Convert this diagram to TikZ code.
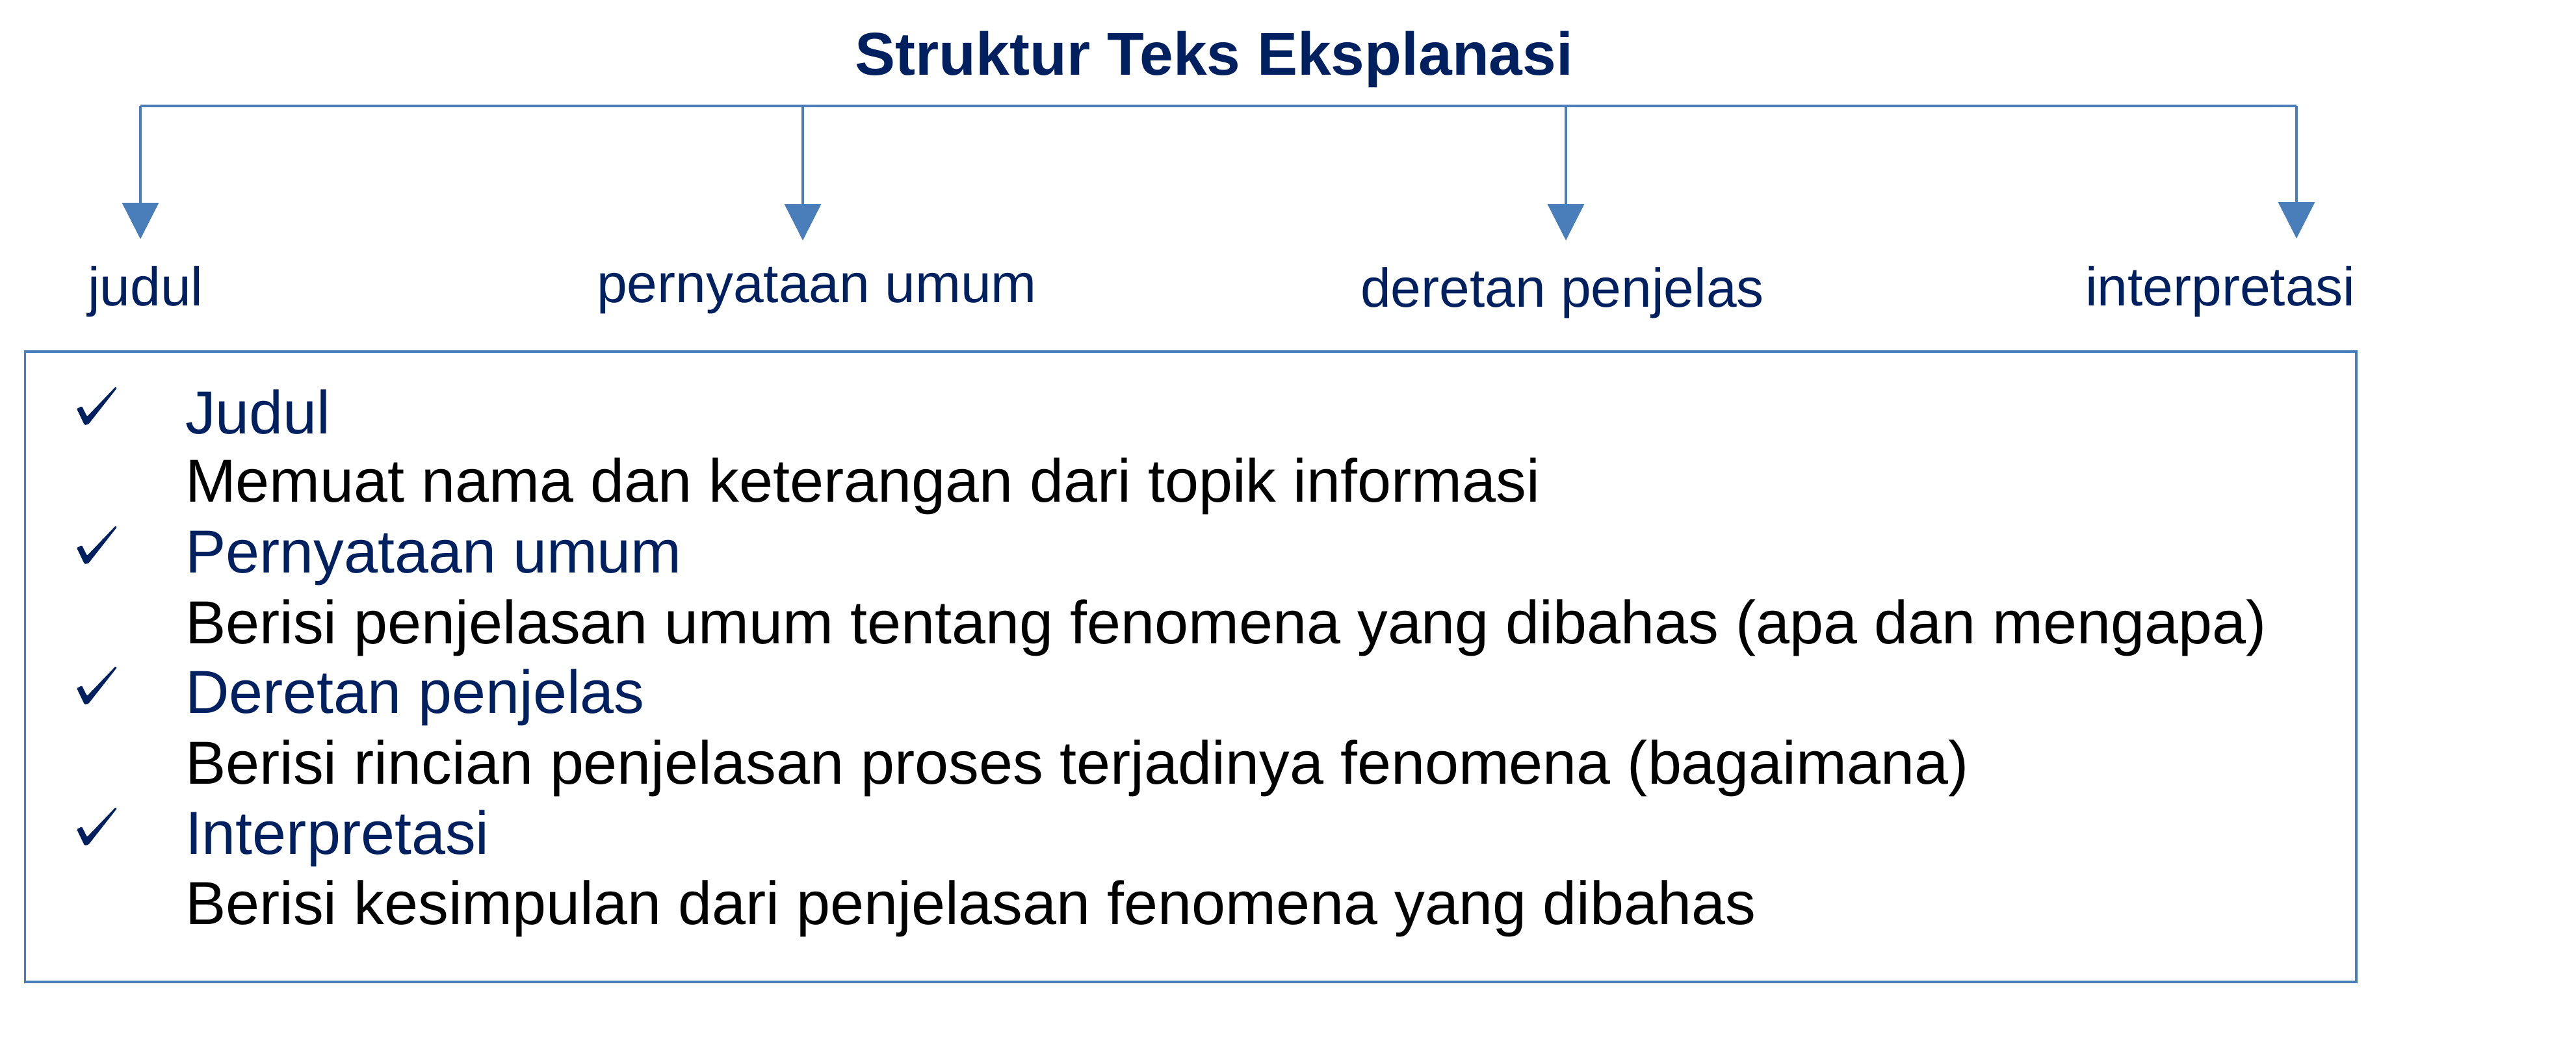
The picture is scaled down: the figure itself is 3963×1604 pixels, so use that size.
\documentclass[tikz,border=0pt]{standalone}
\usepackage{fontspec}
\setmainfont{Liberation Sans}
\usetikzlibrary{arrows.meta}
\definecolor{navy}{RGB}{0,32,96}
\definecolor{lineblue}{RGB}{74,126,187}
\begin{document}
\begin{tikzpicture}[x=0.2pt,y=-0.2pt,
  conn/.style={draw=lineblue,line width=0.7pt},
  arr/.style={conn,-{Triangle[width=11.2pt,length=11.2pt]}},
  lbl/.style={anchor=base west,inner sep=0pt,text=navy,font=\fontsize{16.8pt}{20pt}\selectfont},
  ttl/.style={anchor=base,inner sep=0pt,text=navy,font=\fontsize{18.6pt}{22pt}\selectfont\bfseries},
  head/.style={anchor=base west,inner sep=0pt,text=navy,font=\fontsize{18.7pt}{22pt}\selectfont},
  body/.style={anchor=base west,inner sep=0pt,text=black,font=\fontsize{18.7pt}{22pt}\selectfont},
  chkmark/.pic={\fill[navy,rounded corners=0.3pt] (0,-24) -- (8,-28) -- (16,-12) -- (60,-58) -- (62,-56) -- (18,0) -- (12,1) -- cycle;},
  boxst/.style={draw=lineblue,line width=0.7pt}]
\useasboundingbox (0,0) rectangle (3963,1604);
% title
\node[ttl] (title) at (1868,115) {Struktur Teks Eksplanasi};
% bar
\coordinate (b1) at (216,163);
\coordinate (b2) at (1235,163);
\coordinate (b3) at (2409,163);
\coordinate (b4) at (3533,163);
\coordinate (t1) at (216,368);
\coordinate (t2) at (1235,370);
\coordinate (t3) at (2409,370);
\coordinate (t4) at (3533,367);
\draw[conn] (b1) -- (b4);
\draw[arr] (b1) -- (t1);
\draw[arr] (b2) -- (t2);
\draw[arr] (b3) -- (t3);
\draw[arr] (b4) -- (t4);
% labels
\node[lbl] (l1) at (134,470) {judul};
\node[lbl] (l2) at (917,465) {pernyataan umum};
\node[lbl] (l3) at (2092,472) {deretan penjelas};
\node[lbl] (l4) at (3207,470) {interpretasi};
% box
\draw[boxst] (38.5,541) rectangle (3625,1511);
% items
\pic at (118,653) {chkmark};
\pic at (118,867) {chkmark};
\pic at (118,1083) {chkmark};
\pic at (118,1300) {chkmark};
\node[head] (h1) at (284,667) {Judul};
\node[body] (d1) at (284,772) {Memuat nama dan keterangan dari topik informasi};
\node[head] (h2) at (284,881) {Pernyataan umum};
\node[body] (d2) at (284,990) {Berisi penjelasan umum tentang fenomena yang dibahas (apa dan mengapa)};
\node[head] (h3) at (284,1097) {Deretan penjelas};
\node[body] (d3) at (284,1206) {Berisi rincian penjelasan proses terjadinya fenomena (bagaimana)};
\node[head] (h4) at (284,1314) {Interpretasi};
\node[body] (d4) at (284,1422) {Berisi kesimpulan dari penjelasan fenomena yang dibahas};
\end{tikzpicture}
\end{document}
